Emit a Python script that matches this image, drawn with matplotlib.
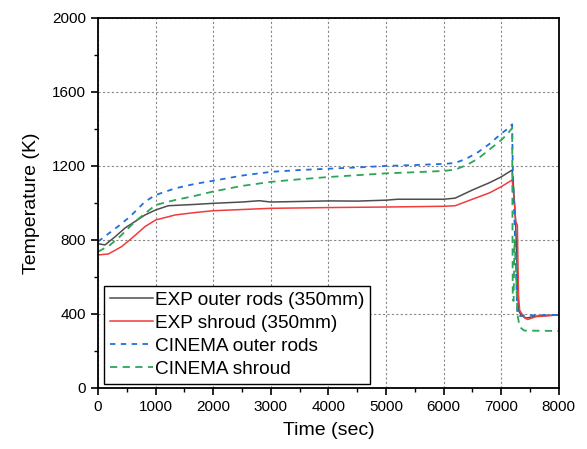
import matplotlib.pyplot as plt

plt.rcParams['font.family'] = ['Liberation Sans', 'DejaVu Sans']

# EXP outer rods (350mm)
t_exp_rod = [0, 120, 300, 470, 640, 815, 1000, 1220, 1680, 2000, 2500, 2800, 3000, 3500,
             4000, 4500, 5000, 5200, 6000, 6200, 6500, 6800, 7000, 7190, 7210, 7250,
             7280, 7300, 7350, 7440, 7600, 8000]
T_exp_rod = [780, 773, 818, 865, 899, 935, 962, 985, 992, 998, 1005, 1012, 1005, 1008,
             1011, 1010, 1015, 1020, 1020, 1026, 1070, 1110, 1141, 1178, 1100, 900,
             600, 420, 390, 378, 388, 395]

# EXP shroud (350mm)
t_exp_shr = [0, 180, 410, 585, 815, 1000, 1340, 1680, 2000, 3000, 4000, 5000, 6000,
             6200, 6500, 6800, 7000, 7190, 7230, 7250, 7280, 7300, 7320, 7400, 7460,
             7600, 8000]
T_exp_shr = [719, 724, 764, 809, 872, 908, 935, 948, 958, 971, 975, 978, 982,
             985, 1020, 1055, 1088, 1124, 1000, 900, 880, 500, 420, 380, 370,
             385, 395]

# CINEMA outer rods
t_cin_rod = [0, 380, 555, 815, 1000, 1340, 1680, 2000, 2500, 3000, 3500, 4000, 4500,
             5000, 5500, 6000, 6200, 6400, 6600, 6800, 7000, 7100, 7190, 7200, 7230,
             7260, 7280, 7300, 7400, 8000]
T_cin_rod = [791, 881, 926, 1007, 1043, 1079, 1103, 1120, 1148, 1168, 1178, 1185, 1192,
             1200, 1205, 1211, 1216, 1240, 1275, 1320, 1375, 1398, 1425, 1200, 900,
             600, 400, 388, 392, 395]

# CINEMA shroud
t_cin_shr = [0, 210, 380, 640, 1000, 1340, 1680, 2000, 2500, 3000, 3500, 4000, 4500,
             5000, 5500, 6000, 6200, 6400, 6600, 6800, 7000, 7100, 7190, 7195, 7200,
             7215, 7230, 7250, 7280, 7320, 7400, 8000]
T_cin_shr = [736, 773, 818, 899, 989, 1016, 1038, 1062, 1092, 1114, 1128, 1140, 1150,
             1160, 1166, 1173, 1180, 1205, 1240, 1290, 1340, 1370, 1405, 900, 480,
             470, 800, 700, 400, 330, 310, 308]

fig = plt.figure(figsize=(5.87, 4.49), dpi=100)
ax = fig.add_axes([0.167, 0.136, 0.785, 0.824])

ax.plot(t_exp_rod, T_exp_rod, color='#4d4d4d', lw=1.1, label='EXP outer rods (350mm)')
ax.plot(t_exp_shr, T_exp_shr, color='#f03c3c', lw=1.1, label='EXP shroud (350mm)')
ax.plot(t_cin_rod, T_cin_rod, color='#1f6fe0', lw=1.3, dashes=(3, 3),
        label='CINEMA outer rods')
ax.plot(t_cin_shr, T_cin_shr, color='#2ca55a', lw=1.3, dashes=(4, 3),
        label='CINEMA shroud')

ax.set_xlim(0, 8000)
ax.set_ylim(0, 2000)
ax.set_xticks(range(0, 8001, 1000))
ax.set_xticks(range(500, 8000, 1000), minor=True)
ax.set_yticks(range(0, 2001, 400))
ax.set_yticks(range(200, 2000, 400), minor=True)
ax.tick_params(which='major', direction='out', length=5, width=1.2, labelsize=11)
ax.tick_params(which='minor', direction='out', length=3, width=1.0)
ax.grid(True, which='major', color='#888888', linestyle=(0, (2, 2)), linewidth=0.8)
for sp in ax.spines.values():
    sp.set_linewidth(1.3)

ax.set_xlabel('Time (sec)', fontsize=14, labelpad=6)
ax.set_ylabel('Temperature (K)', fontsize=14, labelpad=9)

leg = ax.legend(loc='lower left', bbox_to_anchor=(0.013, 0.011), fontsize=13.7,
                frameon=True, fancybox=False, edgecolor='black', framealpha=1,
                handlelength=2.25, labelspacing=0.3, borderpad=0.3,
                handletextpad=0.15, borderaxespad=0)
leg.get_frame().set_linewidth(1.0)

fig.savefig('out.png', dpi=100)
